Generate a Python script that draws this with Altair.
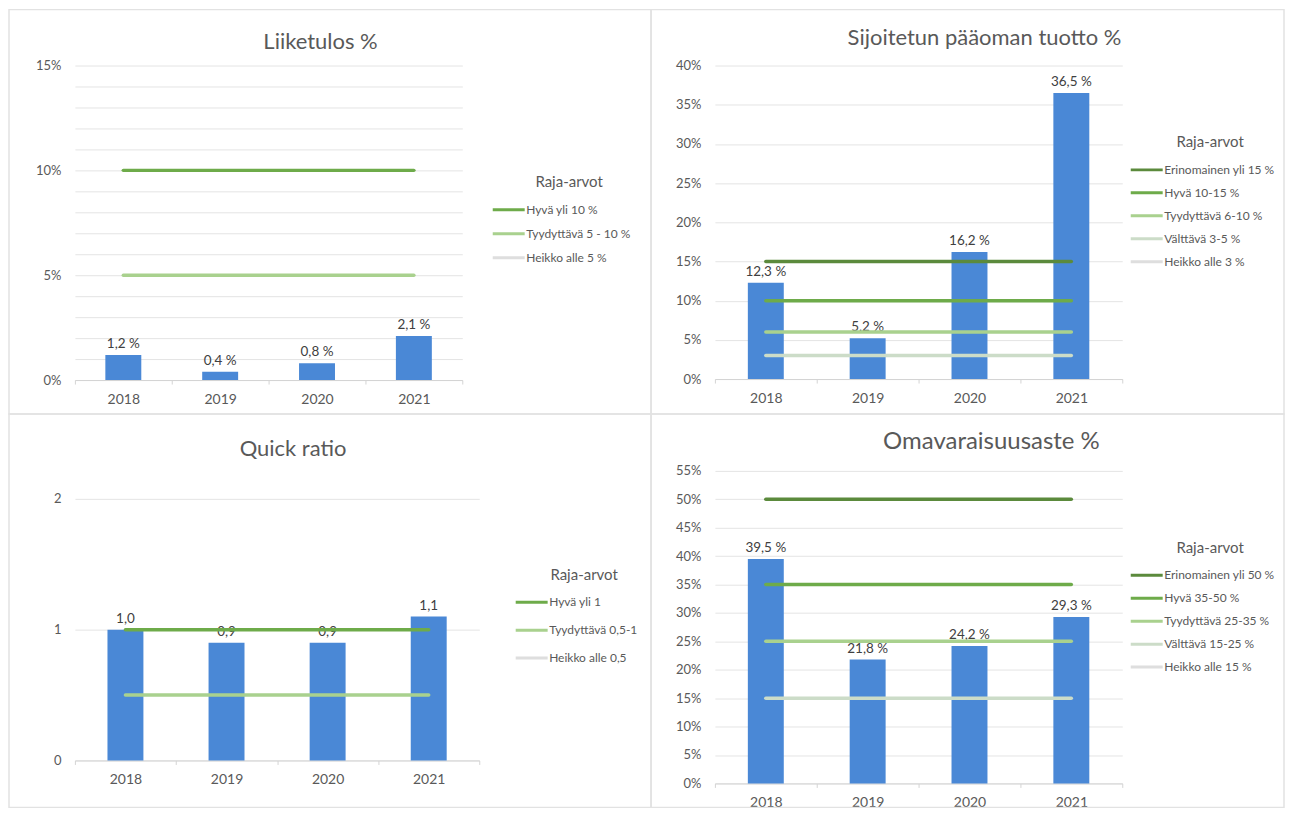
import altair as alt
import pandas as pd

# ---------------- data ----------------
years = ["2018", "2019", "2020", "2021"]

liiketulos = [1.2, 0.4, 0.8, 2.1]
sijoitetun_tuotto = [12.3, 5.2, 16.2, 36.5]
quick_ratio = [1.0, 0.9, 0.9, 1.1]
omavaraisuusaste = [39.5, 21.8, 24.2, 29.3]

lt_series = ["Hyvä yli 10 %", "Tyydyttävä 5 - 10 %", "Heikko alle 5 %"]
lt_limits = [10, 5, None]

sp_series = ["Erinomainen yli 15 %", "Hyvä 10-15 %", "Tyydyttävä 6-10 %",
             "Välttävä 3-5 %", "Heikko alle 3 %"]
sp_limits = [15, 10, 6, 3, None]

qr_series = ["Hyvä yli 1", "Tyydyttävä 0,5-1", "Heikko alle 0,5"]
qr_limits = [1, 0.5, None]

oa_series = ["Erinomainen yli 50 %", "Hyvä 35-50 %", "Tyydyttävä 25-35 %",
             "Välttävä 15-25 %", "Heikko alle 15 %"]
oa_limits = [50, 35, 25, 15, None]

lt_ticks = [0, 1, 2, 3, 4, 5, 6, 7, 8, 9, 10, 11, 12, 13, 14, 15]
sp_ticks = [0, 5, 10, 15, 20, 25, 30, 35, 40]
qr_ticks = [0, 1, 2]
oa_ticks = [0, 5, 10, 15, 20, 25, 30, 35, 40, 45, 50, 55]

# ---------------- styles ----------------
BLUE = "#4A88D6"
G_DARK = "#5B8A3C"
G_MID = "#6EAB4A"
G_LIGHT = "#A9D18E"
G_PALE = "#CCDCC8"
G_GRAY = "#DEDEDE"
TXT = "#595959"
GRID = "#E4E4E4"
FRAME = "#E2E2E2"

lt_colors = [G_MID, G_LIGHT, G_GRAY]
sp_colors = [G_DARK, G_MID, G_LIGHT, G_PALE, G_GRAY]
qr_colors = [G_MID, G_LIGHT, G_GRAY]
oa_colors = [G_DARK, G_MID, G_LIGHT, G_PALE, G_GRAY]

PCT_LABEL = "datum.value + '%'"
PCT_LABEL_5 = "round(datum.value) % 5 == 0 ? datum.value + '%' : ''"
NUM_LABEL = "datum.value + ''"
PCT_TEXT = "replace(format(datum.Arvo, '.1f'), '.', ',') + ' %'"
NUM_TEXT = "replace(format(datum.Arvo, '.1f'), '.', ',')"


def panel(values, series, limits, colors, ymax, ticks, label_expr, text_expr,
          w, h, title, tsize, toffset, tdx, lx, ly, rowpad, frame):
    bar_df = pd.DataFrame({"Vuosi": years, "Arvo": values})
    rows = []
    for s, lim in zip(series, limits):
        if lim is None:
            continue
        for yv in years:
            rows.append({"Vuosi": yv, "Sarja": s, "Raja": lim})
    line_df = pd.DataFrame(rows)

    xscale = alt.Scale(type="band", domain=years, paddingInner=0, paddingOuter=0)
    yscale = alt.Scale(domain=[0, ymax], nice=False, zero=True)
    xaxis = alt.Axis(title=None, labelAngle=0, labelFontSize=14, labelColor=TXT,
                     domainColor="#D4D4D4", tickColor="#D4D4D4", tickSize=4,
                     tickBand="extent", labelPadding=8, grid=False)
    yaxis = alt.Axis(title=None, values=ticks, labelExpr=label_expr, labelOverlap=False,
                     ticks=False, domain=False, gridColor=GRID, labelPadding=14,
                     labelFontSize=13, labelColor=TXT)

    bars = alt.Chart(bar_df).mark_bar(size=36, color=BLUE).encode(
        x=alt.X("Vuosi:N", scale=xscale, axis=xaxis),
        y=alt.Y("Arvo:Q", scale=yscale, axis=yaxis),
    )
    texts = alt.Chart(bar_df).transform_calculate(Teksti=text_expr).mark_text(
        baseline="bottom", dy=-4, fontSize=13.5, color="#404040"
    ).encode(
        x=alt.X("Vuosi:N", scale=xscale, axis=xaxis, bandPosition=0.5),
        y=alt.Y("Arvo:Q", scale=yscale, axis=yaxis),
        text="Teksti:N",
    )
    lines = alt.Chart(line_df).mark_line(strokeWidth=3.5, strokeCap="round").encode(
        x=alt.X("Vuosi:N", scale=xscale, axis=xaxis, bandPosition=0.5),
        y=alt.Y("Raja:Q", scale=yscale, axis=yaxis),
        color=alt.Color(
            "Sarja:N",
            scale=alt.Scale(domain=series, range=colors),
            legend=alt.Legend(
                title="Raja-arvot", orient="none", legendX=lx, legendY=ly,
                titleAnchor="middle", titleFontSize=15, titleColor=TXT,
                titleFontWeight="normal", titlePadding=10,
                labelFontSize=12, labelColor=TXT, labelOffset=0,
                symbolType="M-3,0H1", symbolSize=256, symbolStrokeWidth=3,
                rowPadding=rowpad, padding=0,
            ),
        ),
    )
    fx1, fx2, fy1, fy2 = frame
    box = alt.Chart(pd.DataFrame({"k": [0]})).mark_rect(
        fillOpacity=0, stroke=FRAME, strokeWidth=1.5
    ).encode(x=alt.value(fx1), x2=alt.value(fx2), y=alt.value(fy1), y2=alt.value(fy2))

    return alt.layer(box, bars, texts, lines).properties(
        width=w, height=h,
        title=alt.TitleParams(text=title, fontSize=tsize, color=TXT, fontWeight="normal",
                              offset=toffset, dx=tdx, frame="group", anchor="middle"),
    )


p1 = panel(liiketulos, lt_series, lt_limits, lt_colors, 15, lt_ticks, PCT_LABEL_5, PCT_TEXT,
           388, 315, "Liiketulos %", 22, -45, 52, 433, 110, 8, (-66, 577, -56, 349))
p2 = panel(sijoitetun_tuotto, sp_series, sp_limits, sp_colors, 40, sp_ticks, PCT_LABEL, PCT_TEXT,
           408, 314, "Sijoitetun pääoman tuotto %", 22, -41, 66, 431, 70, 7, (-64, 570, -56, 349))
p3 = panel(quick_ratio, qr_series, qr_limits, qr_colors, 2.2137, qr_ticks, NUM_LABEL, NUM_TEXT,
           405, 290, "Quick ratio", 22, -48, 16, 456, 97, 12, (-66, 577, -57, 337))
p4 = panel(omavaraisuusaste, oa_series, oa_limits, oa_colors, 55, oa_ticks, PCT_LABEL, PCT_TEXT,
           408, 313, "Omavaraisuusaste %", 24, -41, 73, 431, 70, 7, (-64, 570, -57, 337))

chart = alt.concat(p1, p2, p3, p4, columns=2, spacing={"row": 91, "column": 233},
                   bounds="flush", align="all").resolve_scale(
    x="independent", y="independent", color="independent"
).resolve_legend(color="independent").properties(padding=0).configure(
    font="Lato"
).configure_view(stroke=None)

chart.save("out.html", embed_options={"renderer": "svg", "actions": False})
